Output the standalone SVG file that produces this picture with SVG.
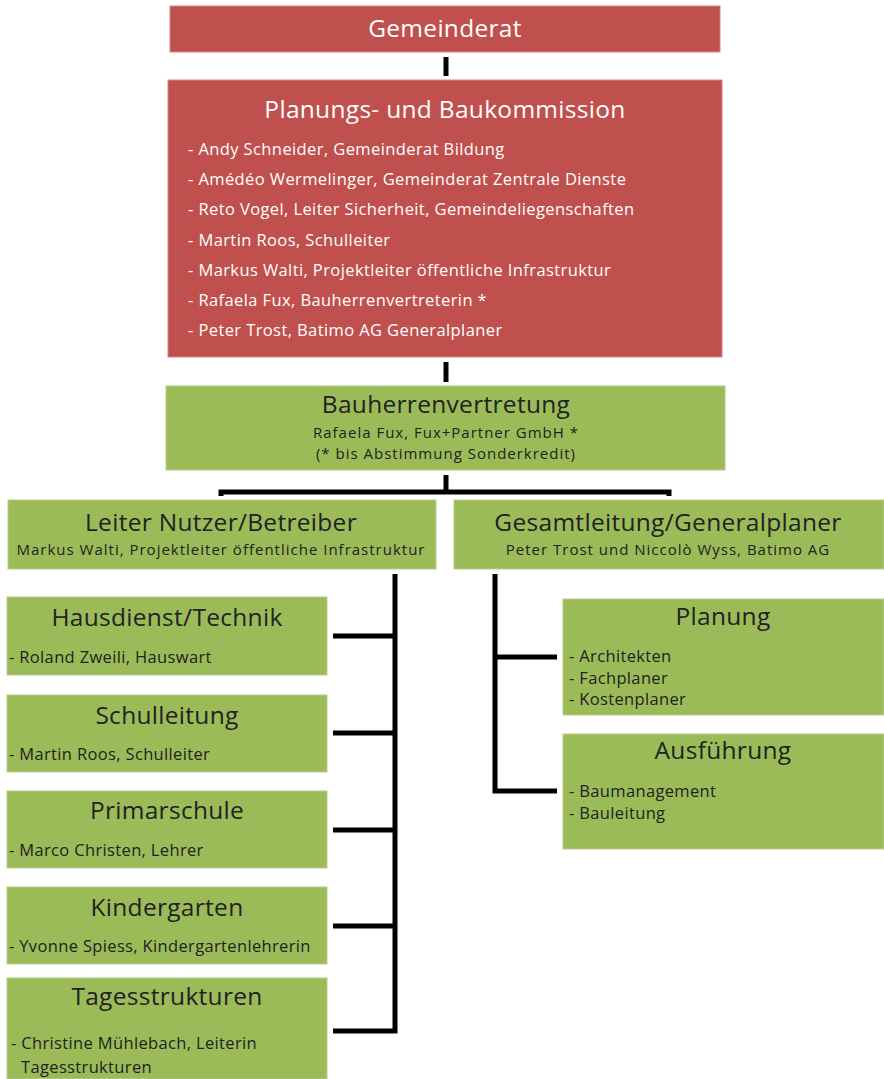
<svg xmlns="http://www.w3.org/2000/svg" width="884" height="1079" viewBox="0 0 884 1079">
<style>
.red{fill:#C0504D;stroke:#D48784;stroke-width:1}
.green{fill:#9BBB59;stroke:#B7CF87;stroke-width:1}
text{font-family:"Open Sans","Noto Sans","Liberation Sans",sans-serif}
.tw{fill:#ffffff;font-size:24.5px;letter-spacing:0.3px;text-anchor:middle}
.iw{fill:#ffffff;font-size:16.5px;letter-spacing:0.4px}
.td{fill:#222222;font-size:24.5px;letter-spacing:0.3px;text-anchor:middle}
.sd{fill:#222222;font-size:15px;letter-spacing:1px;text-anchor:middle}
.bd{fill:#222222;font-size:16.5px;letter-spacing:0.35px}
.ln{stroke:#000;stroke-width:5;fill:none}
</style>
<rect width="884" height="1079" fill="#ffffff"/>
<g id="connectors">
<line class="ln" x1="446" y1="57" x2="446" y2="76"/>
<line class="ln" x1="446" y1="362" x2="446" y2="382"/>
<line class="ln" x1="446" y1="475" x2="446" y2="492"/>
<path class="ln" d="M221,496 V492 H669 V496"/>
<path class="ln" d="M395,574 V1031 H333"/>
<line class="ln" x1="333" y1="636" x2="395" y2="636"/>
<line class="ln" x1="333" y1="733" x2="395" y2="733"/>
<line class="ln" x1="333" y1="830" x2="395" y2="830"/>
<line class="ln" x1="333" y1="926" x2="395" y2="926"/>
<path class="ln" d="M495,574 V791 H557"/>
<line class="ln" x1="495" y1="657" x2="557" y2="657"/>
</g>
<g id="gemeinderat">
<rect class="red" x="170" y="6" width="550" height="46"/>
<text class="tw" x="445" y="37">Gemeinderat</text>
</g>
<g id="kommission">
<rect class="red" x="168" y="80" width="554" height="277"/>
<text class="tw" x="445" y="118">Planungs- und Baukommission</text>
<text class="iw" x="188" y="155">- Andy Schneider, Gemeinderat Bildung</text>
<text class="iw" x="188" y="185">- Amédéo Wermelinger, Gemeinderat Zentrale Dienste</text>
<text class="iw" x="188" y="215">- Reto Vogel, Leiter Sicherheit, Gemeindeliegenschaften</text>
<text class="iw" x="188" y="246">- Martin Roos, Schulleiter</text>
<text class="iw" x="188" y="276">- Markus Walti, Projektleiter öffentliche Infrastruktur</text>
<text class="iw" x="188" y="306">- Rafaela Fux, Bauherrenvertreterin *</text>
<text class="iw" x="188" y="336">- Peter Trost, Batimo AG Generalplaner</text>
</g>
<g id="bauherrenvertretung">
<rect class="green" x="166" y="386" width="559" height="84"/>
<text class="td" x="446" y="413">Bauherrenvertretung</text>
<text class="sd" x="446" y="438">Rafaela Fux, Fux+Partner GmbH *</text>
<text class="sd" x="446" y="459">(* bis Abstimmung Sonderkredit)</text>
</g>
<g id="leiter">
<rect class="green" x="8" y="500" width="428" height="69"/>
<text class="td" x="221" y="531">Leiter Nutzer/Betreiber</text>
<text class="sd" x="221" y="555">Markus Walti, Projektleiter öffentliche Infrastruktur</text>
</g>
<g id="gesamtleitung">
<rect class="green" x="454" y="500" width="430" height="69"/>
<text class="td" x="668" y="531">Gesamtleitung/Generalplaner</text>
<text class="sd" x="668" y="555">Peter Trost und Niccolò Wyss, Batimo AG</text>
</g>
<g id="hausdienst">
<rect class="green" x="7" y="597" width="320" height="78"/>
<text class="td" x="167" y="626">Hausdienst/Technik</text>
<text class="bd" x="9" y="663">- Roland Zweili, Hauswart</text>
</g>
<g id="schulleitung">
<rect class="green" x="7" y="695" width="320" height="77"/>
<text class="td" x="167" y="724">Schulleitung</text>
<text class="bd" x="9" y="760">- Martin Roos, Schulleiter</text>
</g>
<g id="primarschule">
<rect class="green" x="7" y="791" width="320" height="77"/>
<text class="td" x="167" y="819">Primarschule</text>
<text class="bd" x="9" y="856">- Marco Christen, Lehrer</text>
</g>
<g id="kindergarten">
<rect class="green" x="7" y="887" width="320" height="77"/>
<text class="td" x="167" y="916">Kindergarten</text>
<text class="bd" x="9" y="952">- Yvonne Spiess, Kindergartenlehrerin</text>
</g>
<g id="tagesstrukturen">
<rect class="green" x="7" y="978" width="320" height="101"/>
<text class="td" x="167" y="1005">Tagesstrukturen</text>
<text class="bd" x="11" y="1049">- Christine Mühlebach, Leiterin</text>
<text class="bd" x="21" y="1073">Tagesstrukturen</text>
</g>
<g id="planung">
<rect class="green" x="563" y="599" width="321" height="116"/>
<text class="td" x="723" y="625">Planung</text>
<text class="bd" x="569" y="662">- Architekten</text>
<text class="bd" x="569" y="684">- Fachplaner</text>
<text class="bd" x="569" y="705">- Kostenplaner</text>
</g>
<g id="ausfuehrung">
<rect class="green" x="563" y="734" width="321" height="115"/>
<text class="td" x="723" y="759">Ausführung</text>
<text class="bd" x="569" y="797">- Baumanagement</text>
<text class="bd" x="569" y="819">- Bauleitung</text>
</g>
</svg>
